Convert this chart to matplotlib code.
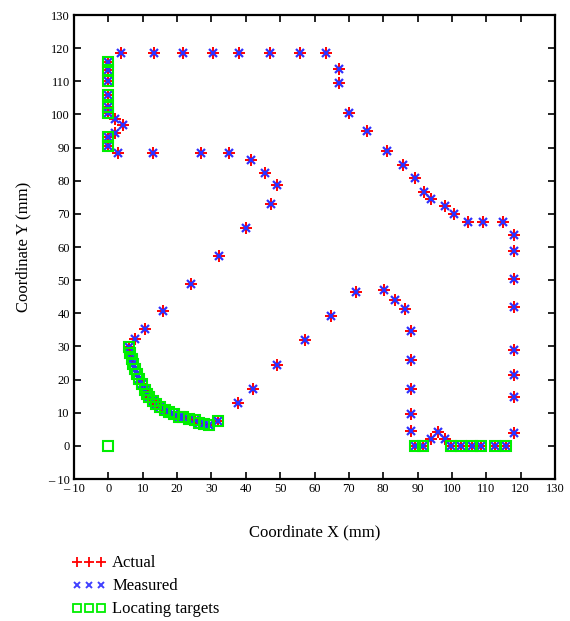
import matplotlib
matplotlib.use("Agg")
import matplotlib.pyplot as plt
from matplotlib.lines import Line2D

# ---- data (mm) ----
path_x = [3.6, 13.3, 21.8, 30.4, 38.1, 47.0, 55.8, 63.3,
          67.2, 67.2, 70.1, 75.4, 81.2, 85.8, 89.3, 92.0, 94.0, 97.9, 100.6,
          104.7, 108.9, 114.8, 118.1, 118.1, 118.1, 118.1, 118.1, 118.1, 118.1, 118.1,
          94.0, 95.9, 97.9,
          88.2, 88.2, 88.2, 88.2, 88.2,
          86.4, 83.5, 80.2, 72.1, 64.7, 57.1, 49.0, 42.0, 37.7,
          7.8, 10.6, 16.0, 24.1, 32.1, 40.1, 47.2, 49.0, 45.5, 41.4,
          35.2, 27.0, 12.9, 2.8, 2.0, 4.4, 2.0]
path_y = [118.6, 118.6, 118.6, 118.6, 118.6, 118.6, 118.6, 118.6,
          113.6, 109.4, 100.3, 95.1, 89.1, 84.8, 80.8, 76.6, 74.4, 72.4, 70.0,
          67.5, 67.5, 67.5, 63.5, 58.9, 50.4, 41.8, 28.9, 21.3, 14.6, 4.0,
          2.2, 4.2, 2.0,
          34.7, 25.9, 17.1, 9.6, 4.4,
          41.2, 44.0, 47.0, 46.4, 39.2, 31.9, 24.3, 17.1, 13.0,
          32.1, 35.2, 40.8, 48.8, 57.3, 65.7, 73.0, 78.8, 82.4, 86.2,
          88.3, 88.3, 88.3, 88.3, 94.5, 96.7, 98.5]

target_x = [0.0,
            0.0, 0.0, 0.0, 0.0, 0.0, 0.0, 0.0, 0.0,
            89.3, 91.5, 99.7, 102.7, 105.7, 108.6, 112.6, 115.7,
            6.1, 6.3, 6.9, 7.3, 7.8, 8.4, 9.0, 9.8, 10.6, 11.3, 11.9, 12.9,
            13.9, 15.0, 16.4, 17.7, 19.1, 20.6, 21.8, 23.4, 25.1, 26.5, 27.8,
            29.2, 31.8]
target_y = [0.0,
            115.9, 113.4, 110.0, 106.0, 102.3, 100.3, 93.1, 90.6,
            0.0, 0.0, 0.0, 0.0, 0.0, 0.0, 0.0, 0.0,
            29.7, 27.9, 26.1, 24.7, 23.1, 21.7, 20.1, 18.7, 16.8, 15.6, 14.8, 13.6,
            12.6, 11.6, 10.8, 10.2, 9.6, 8.8, 8.6, 8.2, 7.8, 6.8, 6.6,
            6.4, 7.4]

# actual and measured positions (path points plus measured targets, origin excluded)
actual_x = path_x + target_x[1:]
actual_y = path_y + target_y[1:]
measured_x = list(actual_x)
measured_y = list(actual_y)

ticks = list(range(-10, 131, 10))
tick_labels = ["\u2013 10" if t < 0 else str(t) for t in ticks]
legend_labels = ["Actual", "Measured", "Locating targets"]

plt.rcParams['font.family'] = ['Liberation Serif', 'DejaVu Serif']

fig = plt.figure(figsize=(5.7, 6.21), dpi=100)
ax = fig.add_axes([74/570, 1 - 479/621, (555-74)/570, (479-15)/621])

ax.plot(actual_x, actual_y, linestyle='none', marker='+', color='red',
        markersize=8, markeredgewidth=1.4, zorder=3)
ax.plot(measured_x, measured_y, linestyle='none', marker='x', color='#3030ff',
        markersize=5.5, markeredgewidth=1.6, zorder=4)
ax.plot(target_x, target_y, linestyle='none', marker='s', markerfacecolor='none',
        markeredgecolor='#00ee00', markersize=7, markeredgewidth=1.5, zorder=5)

ax.set_xlim(-10, 130)
ax.set_ylim(-10, 130)
ax.set_xticks(ticks)
ax.set_xticklabels(tick_labels)
ax.set_yticks(ticks)
ax.set_yticklabels(tick_labels)
ax.tick_params(direction='in', length=5, width=1.2, top=True, right=True,
               labelsize=9, pad=3, colors='black')
for s in ax.spines.values():
    s.set_linewidth(1.6)

ax.set_xlabel("Coordinate X (mm)", fontsize=12, labelpad=21)
ax.set_ylabel("Coordinate Y (mm)", fontsize=12, labelpad=12)

handles = [
    Line2D([], [], linestyle='none', marker='+', color='red', markersize=7, markeredgewidth=1.3),
    Line2D([], [], linestyle='none', marker='x', color='#4040ff', markersize=5, markeredgewidth=1.4),
    Line2D([], [], linestyle='none', marker='s', markerfacecolor='none',
           markeredgecolor='#00ee00', markersize=6, markeredgewidth=1.3),
]
fig.legend(handles, legend_labels, loc='upper left', bbox_to_anchor=(64/570, 1 - 547/621),
           frameon=False, numpoints=3, fontsize=12, handlelength=2.0,
           handletextpad=0.4, labelspacing=0.42, borderpad=0)

fig.savefig("out.png", dpi=100)
